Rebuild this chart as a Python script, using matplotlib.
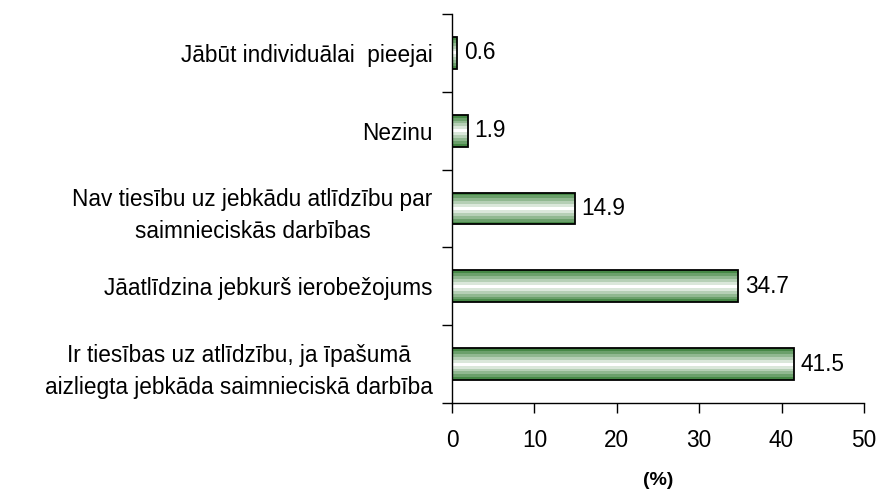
import matplotlib
matplotlib.use("Agg")
import matplotlib.pyplot as plt
import numpy as np

plt.rcParams['font.family'] = ['Liberation Sans', 'DejaVu Sans']

categories = [
    "Ir tiesības uz atlīdzību, ja īpašumā\naizliegta jebkāda saimnieciskā darbība",
    "Jāatlīdzina jebkurš ierobežojums",
    "Nav tiesību uz jebkādu atlīdzību par\nsaimnieciskās darbības",
    "Nezinu",
    "Jābūt individuālai  pieejai",
]
values = [41.5, 34.7, 14.9, 1.9, 0.6]
xticks = [0, 10, 20, 30, 40, 50]

fig = plt.figure(figsize=(8.78, 4.94), dpi=100)
ax = fig.add_axes([0.5148, 0.184, 0.4692, 0.7877])

y = np.arange(len(categories))
bar_h = 0.41
# stripe gradient: green edges -> white center
nstr = 11
edge = np.array([0x46, 0x88, 0x46]) / 255
white = np.array([1.0, 1.0, 1.0])
for i in range(nstr):
    t = abs((i + 0.5) / nstr - 0.5) * 2  # 1 at edges, 0 center
    t = min(1.0, t * 1.1)
    col = white * (1 - t) + edge * t
    off = -bar_h / 2 + i * bar_h / nstr
    ax.barh(y + off, values, height=bar_h / nstr, align='edge',
            color=col, edgecolor='none', zorder=2)
ax.barh(y, values, height=bar_h, facecolor='none', edgecolor='black',
        linewidth=1.3, zorder=3)

fs = 16.3
for yi, v in zip(y, values):
    ax.annotate(f"{v:.1f}", (v, yi), xytext=(5, 0), textcoords='offset points',
                va='center', ha='left', fontsize=fs)

ax.set_xlim(0, 50)
ax.set_ylim(-0.5, len(categories) - 0.5)
ax.set_xticks(xticks)
ax.set_xticklabels([str(t) for t in xticks], fontsize=fs)
ax.set_yticks(y)
ax.set_yticklabels(categories, fontsize=fs)
for lab in ax.get_yticklabels():
    lab.set_multialignment('center')
    lab.set_linespacing(1.5)
ax.tick_params(axis='y', length=0, pad=14)
ax.set_yticks(np.arange(-0.5, len(categories)), minor=True)
ax.tick_params(axis='y', which='minor', length=7, width=1, direction='out')
ax.tick_params(axis='x', length=7, width=1, direction='out', pad=12)
for s in ['top', 'right']:
    ax.spines[s].set_visible(False)
for s in ['left', 'bottom']:
    ax.spines[s].set_linewidth(1)
ax.set_xlabel("(%)", fontsize=14, fontweight='bold', labelpad=14)

fig.savefig("out.png", dpi=100)
